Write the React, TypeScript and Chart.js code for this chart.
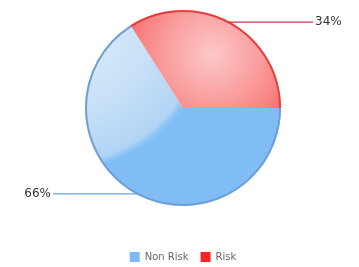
import React, { useEffect, useRef } from "react";
import { Chart, registerables } from "chart.js";

Chart.register(...registerables);

const categories = ["Non Risk", "Risk"];
const values = [66, 34];
const valueLabels = ["66%", "34%"];
const legendColors = ["#7db9f2", "#f52424"];
const lineColors = ["#6aa6e6", "#cc3344"];
const rimColors = ["#6f9fd3", "#e44040"];

function sliceFill(ctx: any) {
  const chart = ctx.chart;
  const area = chart.chartArea;
  const i = ctx.dataIndex;
  if (!area) return legendColors[i];
  const cx = (area.left + area.right) / 2;
  const cy = (area.top + area.bottom) / 2;
  const r = Math.min(area.right - area.left, area.bottom - area.top) / 2;
  const c = chart.ctx as CanvasRenderingContext2D;
  if (i === 0) {
    const gx = cx - 1.25 * r;
    const gy = cy - 0.9 * r;
    const g = c.createRadialGradient(gx, gy, 0, gx, gy, r * 1.55);
    g.addColorStop(0, "#e0eefa");
    g.addColorStop(0.6, "#c8e1f7");
    g.addColorStop(0.94, "#b2d4f5");
    g.addColorStop(0.975, "#8cc4f6");
    g.addColorStop(1, "#80bdf6");
    return g;
  }
  const gx = cx + 0.3 * r;
  const gy = cy - 0.55 * r;
  const g = c.createRadialGradient(gx, gy, 0, gx, gy, r * 1.0);
  g.addColorStop(0, "#fcc8c8");
  g.addColorStop(0.45, "#faa0a0");
  g.addColorStop(0.75, "#f88282");
  g.addColorStop(0.92, "#f76c6c");
  g.addColorStop(1, "#f44c4c");
  return g;
}

const labelPlugin = {
  id: "sliceLabels",
  afterDatasetsDraw(chart: any) {
    const meta = chart.getDatasetMeta(0);
    const ctx = chart.ctx as CanvasRenderingContext2D;
    ctx.save();
    meta.data.forEach((arc: any, i: number) => {
      const p = arc.getProps(["x", "y", "startAngle", "endAngle", "outerRadius"], true);
      ctx.strokeStyle = rimColors[i];
      ctx.lineWidth = 2;
      ctx.beginPath();
      ctx.arc(p.x, p.y, p.outerRadius - 1, p.startAngle, p.endAngle);
      ctx.stroke();
    });
    meta.data.forEach((arc: any, i: number) => {
      const p = arc.getProps(["x", "y", "startAngle", "endAngle", "outerRadius"], true);
      const mid = (p.startAngle + p.endAngle) / 2;
      const px = p.x + Math.cos(mid) * (p.outerRadius - 3);
      const py = p.y + Math.sin(mid) * p.outerRadius;
      const side = Math.cos(mid) >= 0 ? 1 : -1;
      const endX = p.x + side * 130;
      ctx.strokeStyle = lineColors[i];
      ctx.lineWidth = 1.2;
      ctx.beginPath();
      ctx.moveTo(px, py);
      ctx.lineTo(endX, py);
      ctx.stroke();
      ctx.fillStyle = "#333333";
      ctx.font = "12px 'DejaVu Sans'";
      ctx.textBaseline = "middle";
      ctx.textAlign = side > 0 ? "left" : "right";
      ctx.fillText(valueLabels[i], endX + side * 2, py);
    });
    ctx.restore();
  },
};

export default function App() {
  const ref = useRef<HTMLCanvasElement | null>(null);
  useEffect(() => {
    if (!ref.current) return;
    const chart = new Chart(ref.current, {
      type: "pie",
      data: {
        labels: categories,
        datasets: [
          {
            data: values,
            backgroundColor: sliceFill as any,
            borderWidth: 0,
            hoverOffset: 0,
          },
        ],
      },
      options: {
        animation: false,
        responsive: true,
        maintainAspectRatio: false,
        rotation: 90,
        layout: { padding: { top: 10, left: 7, right: 0, bottom: -5 } },
        plugins: {
          tooltip: { enabled: false },
          legend: {
            position: "bottom",
            title: { display: true, text: "", font: { size: 10 }, padding: { top: 22, bottom: 0 } },
            labels: {
              boxWidth: 10,
              boxHeight: 10,
              padding: 12,
              color: "#333333",
              font: { size: 10, family: "'DejaVu Sans'" },
              generateLabels: () =>
                categories.map((c, i) => ({
                  text: c,
                  fillStyle: legendColors[i],
                  strokeStyle: legendColors[i],
                  lineWidth: 0,
                  hidden: false,
                  index: i,
                  datasetIndex: 0,
                })),
            },
          },
        },
      },
      plugins: [labelPlugin],
    });
    return () => chart.destroy();
  }, []);
  return (
    <div style={{ position: "fixed", left: 0, top: 0, width: 359, height: 267, background: "#ffffff" }}>
      <canvas ref={ref} />
    </div>
  );
}
